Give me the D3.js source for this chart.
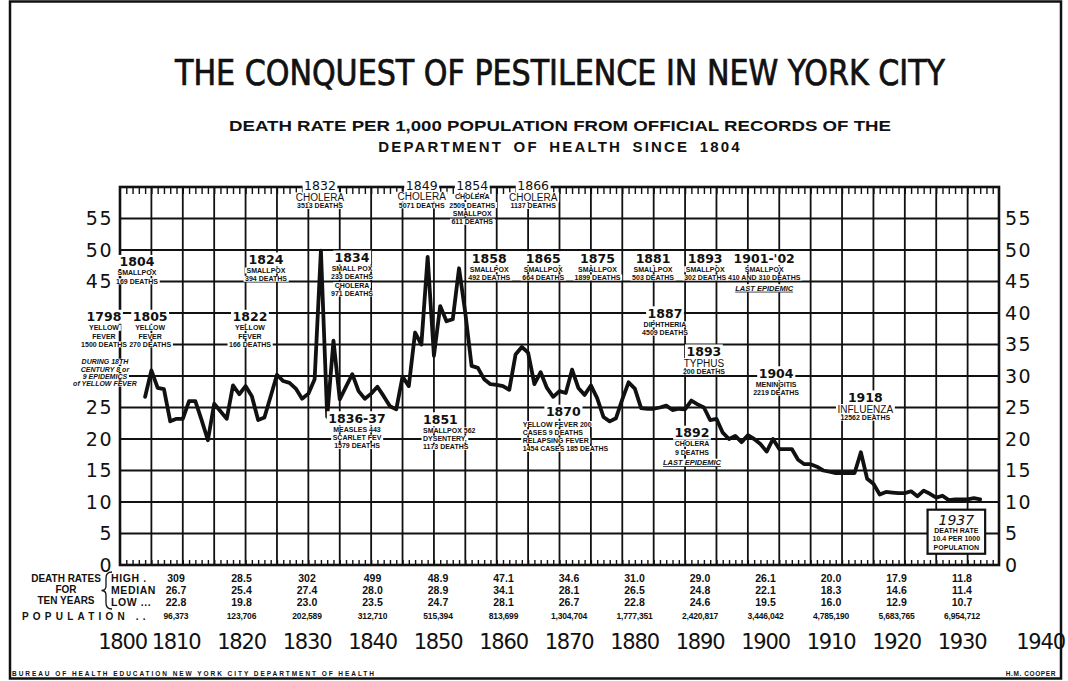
<!DOCTYPE html>
<html><head><meta charset="utf-8">
<script src="https://cdn.jsdelivr.net/npm/d3@7/dist/d3.min.js"></script>
<style>
body{margin:0;background:#fff}
svg{display:block}
text{fill:#111}
</style></head><body>
<svg id="c" width="1068" height="681"></svg>
<script>
// ---------------- DATA ----------------
const firstYear = 1804;
const deathRate = [
  26.7, 30.9, 28.1, 27.9, 22.8, 23.2,                              // 1804-1809
  23.2, 26.0, 26.0, 23.0, 19.8, 25.6, 24.4, 23.2, 28.5, 27.1,      // 1810s
  28.4, 26.8, 23.0, 23.4, 26.8, 30.2, 29.2, 28.9, 28.0, 26.4,      // 1820s
  27.2, 29.5, 49.9, 23.5, 35.6, 26.3, 28.3, 30.3, 27.6, 26.4,      // 1830s
  27.2, 28.3, 26.8, 25.2, 24.7, 29.9, 28.4, 36.9, 35.0, 48.9,      // 1840s
  33.2, 41.1, 38.7, 39.0, 47.1, 40.0, 31.6, 31.3, 29.5, 28.7,      // 1850s
  28.6, 28.4, 27.8, 33.4, 34.6, 33.7, 28.7, 30.6, 28.1, 26.7,      // 1860s
  27.6, 27.3, 31.0, 28.1, 27.0, 28.5, 26.5, 23.5, 22.8, 23.3,      // 1870s
  26.3, 29.0, 28.0, 24.9, 24.8, 24.8, 25.0, 25.3, 24.6, 24.8,      // 1880s
  24.7, 26.1, 25.5, 25.0, 23.0, 23.2, 21.0, 20.0, 20.5, 19.5,      // 1890s
  20.6, 20.0, 19.2, 18.0, 20.0, 18.4, 18.4, 18.4, 16.7, 16.0,      // 1900s
  16.0, 15.6, 15.0, 14.8, 14.6, 14.6, 14.6, 14.6, 17.9, 13.7,      // 1910s
  12.9, 11.2, 11.6, 11.5, 11.4, 11.4, 11.7, 10.9, 11.8, 11.3,      // 1920s
  10.7, 11.0, 10.3, 10.4, 10.4, 10.4, 10.6, 10.4                   // 1930-1937
];
const yTicksRight = [0, 5, 10, 15, 20, 25, 30, 35, 40, 45, 50, 55];
const yTicksLeft  = [0, 5, 10, 15, 20, 25, 45, 50, 55];
const decadeLabels = [1800, 1810, 1820, 1830, 1840, 1850, 1860, 1870, 1880, 1890, 1900, 1910, 1920, 1930, 1940];
const tableDecades = [1810, 1820, 1830, 1840, 1850, 1860, 1870, 1880, 1890, 1900, 1910, 1920, 1930];
const highRates   = ["309", "28.5", "302", "499", "48.9", "47.1", "34.6", "31.0", "29.0", "26.1", "20.0", "17.9", "11.8"];
const medianRates = ["26.7", "25.4", "27.4", "28.0", "28.9", "34.1", "28.1", "26.5", "24.8", "22.1", "18.3", "14.6", "11.4"];
const lowRates    = ["22.8", "19.8", "23.0", "23.5", "24.7", "28.1", "26.7", "22.8", "24.6", "19.5", "16.0", "12.9", "10.7"];
const population  = ["96,373", "123,706", "202,589", "312,710", "515,394", "813,699", "1,304,704", "1,777,351",
                     "2,420,817", "3,446,042", "4,785,190", "5,683,765", "6,954,712"];
const rowLabels = ["HIGH .", "MEDIAN", "LOW ..."];

// annotations anchored in data coordinates (year, rate)
const annotations = [
  {year: 1831.85, value: 60.2, lines: [["1832","yearTop"],["CHOLERA","head"],["3513 DEATHS","note"]]},
  {year: 1848.05, value: 60.3, lines: [["1849","yearTop"],["CHOLERA","head"],["5071 DEATHS","note"]]},
  {year: 1856.1,  value: 60.2, lines: [["1854","yearTop"],["CHOLERA","note"],["2509 DEATHS","note"],["SMALLPOX","note"],["611 DEATHS","note"]]},
  {year: 1865.8,  value: 60.2, lines: [["1866","yearTop"],["CHOLERA","head"],["1137 DEATHS","note"]]},
  {year: 1802.7,  value: 48.1, lines: [["1804","year"],["SMALLPOX","note"],["169 DEATHS","note"]]},
  {year: 1823.25, value: 48.5, lines: [["1824","year"],["SMALLPOX","note"],["394 DEATHS","note"]]},
  {year: 1836.95, value: 48.8, lines: [["1834","year"],["SMALL POX","note"],["233 DEATHS","note"],["CHOLERA","note"],["971 DEATHS","note"]]},
  {year: 1858.8,  value: 48.7, lines: [["1858","year"],["SMALLPOX","note"],["492 DEATHS","note"]]},
  {year: 1867.4,  value: 48.7, lines: [["1865","year"],["SMALLPOX","note"],["664 DEATHS","note"]]},
  {year: 1876.05, value: 48.7, lines: [["1875","year"],["SMALLPOX","note"],["1899 DEATHS","note"]]},
  {year: 1884.9,  value: 48.7, lines: [["1881","year"],["SMALLPOX","note"],["503 DEATHS","note"]]},
  {year: 1893.2,  value: 48.7, lines: [["1893","year"],["SMALLPOX","note"],["302 DEATHS","note"]]},
  {year: 1902.6,  value: 48.7, lines: [["1901-'02","year"],["SMALLPOX","note"],["410 AND 310 DEATHS","note"],["LAST EPIDEMIC","italicU"]]},
  {year: 1886.8,  value: 39.95, lines: [["1887","year"],["DIPHTHERIA","note"],["4509 DEATHS","note"]]},
  {year: 1893.0,  value: 33.9, lines: [["1893","year"],["TYPHUS","head"],["200 DEATHS","note"]]},
  {year: 1904.5,  value: 30.43, lines: [["1904","year"],["MENINGITIS","note"],["2219 DEATHS","note"]]},
  {year: 1918.7,  value: 26.6, lines: [["1918","year"],["INFLUENZA","head"],["12562 DEATHS","note"]]},
  {year: 1797.45, value: 39.4, lines: [["1798","year"],["YELLOW","note"],["FEVER","note"],["1500 DEATHS","note"]]},
  {year: 1804.8,  value: 39.4, lines: [["1805","year"],["YELLOW","note"],["FEVER","note"],["270 DEATHS","note"]]},
  {year: 1797.6,  value: 32.27, lines: [["DURING 18TH","italic"],["CENTURY 8 or","italic"],["9 EPIDEMICS","italic"],["of YELLOW FEVER","italic"]]},
  {year: 1820.7,  value: 39.4, lines: [["1822","year"],["YELLOW","note"],["FEVER","note"],["166 DEATHS","note"]]},
  {year: 1837.75, value: 23.29, lines: [["1836-37","year"],["MEASLES 443","note"],["SCARLET FEV","note"],["1579 DEATHS","note"]]},
  {year: 1848.26, value: 23.13, anchor: "start", lines: [["1851","year"],["SMALLPOX 562","note"],["DYSENTERY,","note"],["1173 DEATHS","note"]]},
  {year: 1870.6,  value: 24.33, lines: [["1870","year"]]},
  {year: 1864.14, value: 22.38, anchor: "start", lines: [["YELLOW FEVER 200","note"],["CASES 9 DEATHS","note"],["RELAPSING FEVER","note"],["1454 CASES 185 DEATHS","note"]]},
  {year: 1891.1,  value: 21.0, lines: [["1892","year"],["CHOLERA","note"],["9 DEATHS","note"],["LAST EPIDEMIC","italicU"]]}
];
const boxNote = {year: 1933.2, value: 7.2, lines: [["1937","boxYear"],["DEATH RATE","note"],["10.4 PER 1000","note"],["POPULATION","note"]]};

// ---------------- DRAW ----------------
const svg = d3.select("#c");
const x = d3.scaleLinear().domain([1800, 1940]).range([120, 999]);
const y = d3.scaleLinear().domain([0, 60]).range([565, 187]);
const tx = d3.scaleLinear().domain([1810, 1930]).range([176, 962]);

const SANS = "'Liberation Sans', Arial, sans-serif";
const DJ = "'DejaVu Sans', sans-serif";
const INK = "#111";

// outer border
svg.append("rect").attr("x", 10).attr("y", 1.5).attr("width", 1051).attr("height", 677)
  .attr("fill", "none").attr("stroke", INK).attr("stroke-width", 2.5);

// title
svg.append("text").attr("x", 560).attr("y", 85).attr("text-anchor", "middle")
  .attr("font-family", "'Liberation Sans Narrow', 'DejaVu Sans Condensed', 'Liberation Sans', sans-serif")
  .attr("font-size", 35).attr("textLength", 770).attr("lengthAdjust", "spacingAndGlyphs")
  .attr("stroke", INK).attr("stroke-width", 0.7)
  .text("THE CONQUEST OF  PESTILENCE  IN  NEW YORK CITY");
svg.append("text").attr("x", 560).attr("y", 131).attr("text-anchor", "middle")
  .attr("font-family", SANS).attr("font-weight", "bold").attr("font-size", 15)
  .attr("textLength", 662).attr("lengthAdjust", "spacingAndGlyphs")
  .text("DEATH RATE PER 1,000 POPULATION FROM OFFICIAL RECORDS OF THE");
svg.append("text").attr("x", 560).attr("y", 152).attr("text-anchor", "middle")
  .attr("font-family", SANS).attr("font-weight", "bold").attr("font-size", 15)
  .attr("letter-spacing", 2.2).attr("word-spacing", 4)
  .text("DEPARTMENT OF HEALTH SINCE 1804");

// grid
const grid = svg.append("g").attr("stroke", INK);
grid.selectAll("line.h").data(yTicksRight.filter(d => d > 0)).join("line")
  .attr("x1", x(1800)).attr("x2", x(1940)).attr("y1", d => y(d)).attr("y2", d => y(d))
  .attr("stroke-width", 1.9);
grid.selectAll("line.v").data(d3.range(1805, 1940, 5)).join("line")
  .attr("x1", d => x(d)).attr("x2", d => x(d)).attr("y1", y(60)).attr("y2", y(0))
  .attr("stroke-width", 1.8);

// year ticks top and bottom
const yearTicks = d3.range(1801, 1940);
const topAx = svg.append("g").attr("transform", `translate(0,${y(60)})`)
  .call(d3.axisBottom(x).tickValues(yearTicks).tickSize(7).tickFormat(""));
const botAx = svg.append("g").attr("transform", `translate(0,${y(0)})`)
  .call(d3.axisTop(x).tickValues(yearTicks).tickSize(5).tickFormat(""));
[topAx, botAx].forEach(g => { g.select(".domain").remove(); g.selectAll("line").attr("stroke", INK).attr("stroke-width", 1.4); });

// frame
svg.append("rect").attr("x", x(1800)).attr("y", y(60)).attr("width", x(1940) - x(1800)).attr("height", y(0) - y(60))
  .attr("fill", "none").attr("stroke", INK).attr("stroke-width", 2.6);

// y labels both sides
const yl = svg.append("g").attr("transform", `translate(${x(1800)},0)`)
  .call(d3.axisLeft(y).tickValues(yTicksLeft).tickSize(0).tickPadding(7));
const yr = svg.append("g").attr("transform", `translate(${x(1940)},0)`)
  .call(d3.axisRight(y).tickValues(yTicksRight).tickSize(0).tickPadding(6));
[yl, yr].forEach(g => {
  g.select(".domain").remove();
  g.selectAll("text").attr("font-family", DJ).attr("font-size", 19).attr("letter-spacing", 1.5).attr("fill", INK);
});

// data line
const pts = deathRate.map((v, i) => [firstYear + i, v]);
svg.append("path").datum(pts)
  .attr("fill", "none").attr("stroke", INK).attr("stroke-width", 3.8)
  .attr("stroke-linejoin", "round").attr("stroke-linecap", "round")
  .attr("d", d3.line().x(d => x(d[0])).y(d => y(d[1])));

// annotations
const kindStyle = {
  yearTop: {ff: DJ, fs: 12.5, fw: "normal", fst: "normal"},
  year:    {ff: DJ, fs: 12.5, fw: "bold", fst: "normal"},
  head:    {ff: SANS, fs: 10, fw: "normal", fst: "normal"},
  note:    {ff: SANS, fs: 7, fw: "bold", fst: "normal"},
  italic:  {ff: SANS, fs: 7, fw: "bold", fst: "italic"},
  italicU: {ff: SANS, fs: 7.5, fw: "bold", fst: "italic"},
  boxYear: {ff: DJ, fs: 14, fw: "normal", fst: "italic"}
};
function gap(prev, cur) {
  if (cur === "head") return 11.5;
  if (cur === "italic" && prev === "italic") return 7.3;
  if (cur === "italicU") return 10.5;
  if (prev === "year" || prev === "yearTop" || prev === "boxYear") return 11;
  if (prev === "head") return 8.7;
  return 8.3;
}
function drawNote(a, g, clear) {
  const bgG = g.append("g");
  const txG = g.append("g");
  let cy = 0, prev = null;
  a.lines.forEach(([t, k]) => {
    if (prev) cy += gap(prev, k);
    const s = kindStyle[k];
    const el = txG.append("text")
      .attr("x", 0).attr("y", cy).attr("dy", "0.36em")
      .attr("text-anchor", a.anchor || "middle")
      .attr("font-family", s.ff).attr("font-size", s.fs)
      .attr("font-weight", s.fw).attr("font-style", s.fst).text(t);
    if (k === "italicU") el.attr("text-decoration", "underline");
    if (clear) {
      const b = el.node().getBBox();
      bgG.append("rect").attr("x", b.x - 1.5).attr("y", b.y + 0.5).attr("width", b.width + 3).attr("height", b.height - 1)
        .attr("fill", "#fff");
    }
    prev = k;
  });
}
annotations.forEach(a => {
  const g = svg.append("g").attr("transform", `translate(${x(a.year)},${y(a.value)})`);
  drawNote(a, g, true);
});

// 1937 box
const bg = svg.append("g").attr("transform", `translate(${x(boxNote.year)},${y(boxNote.value)})`);
const boxRect = bg.append("rect").attr("fill", "#fff").attr("stroke", INK).attr("stroke-width", 2.2);
drawNote(boxNote, bg, false);
const bb = bg.node().getBBox();
boxRect.attr("x", bb.x - 5).attr("y", bb.y - 2).attr("width", bb.width + 10).attr("height", bb.height + 5);

// ---------------- TABLE ----------------
const tb = svg.append("g").attr("font-family", SANS).attr("font-weight", "bold");
[["DEATH RATES", 582], ["FOR", 593], ["TEN YEARS", 604]].forEach(([t, yy]) =>
  tb.append("text").attr("x", 66).attr("y", yy).attr("text-anchor", "middle").attr("font-size", 10).text(t));
tb.append("path").attr("d", "M112,572 Q106,572 106,578 L106,586 Q106,590.5 101.5,590.5 Q106,590.5 106,595 L106,603 Q106,609 112,609")
  .attr("fill", "none").attr("stroke", INK).attr("stroke-width", 1.3);
const rowY = [582, 594, 606];
rowLabels.forEach((t, i) => tb.append("text").attr("x", 111).attr("y", rowY[i]).attr("font-size", 10.5).attr("letter-spacing", 0.6).text(t));
[highRates, medianRates, lowRates].forEach((arr, i) => {
  tb.selectAll(null).data(arr).join("text")
    .attr("x", (d, j) => tx(tableDecades[j])).attr("y", rowY[i])
    .attr("text-anchor", "middle").attr("font-size", 10.5).text(d => d);
});
tb.append("text").attr("x", 22).attr("y", 619.5).attr("font-size", 10).attr("letter-spacing", 4.2).text("POPULATION ..");
tb.selectAll(null).data(population).join("text")
  .attr("x", (d, j) => tx(tableDecades[j])).attr("y", 619)
  .attr("text-anchor", "middle").attr("font-size", 8.5).attr("letter-spacing", -0.2).text(d => d);

svg.append("g").selectAll("text").data(decadeLabels).join("text")
  .attr("x", d => d === 1800 ? tx(d) + 12 : d === 1940 ? tx(d) + 13 : tx(d)).attr("y", 649)
  .attr("text-anchor", "middle").attr("font-family", DJ).attr("font-size", 21)
  .attr("letter-spacing", -1.2).text(d => d);

// footers
svg.append("text").attr("x", 12).attr("y", 676).attr("font-family", SANS).attr("font-weight", "bold")
  .attr("font-size", 6.5).attr("textLength", 362).attr("lengthAdjust", "spacing")
  .text("BUREAU OF HEALTH EDUCATION NEW YORK CITY DEPARTMENT OF HEALTH");
svg.append("text").attr("x", 1056).attr("y", 676).attr("text-anchor", "end").attr("font-family", SANS)
  .attr("font-weight", "bold").attr("font-size", 6.5).attr("letter-spacing", 0.6).text("H.M. COOPER");
</script>
</body></html>
